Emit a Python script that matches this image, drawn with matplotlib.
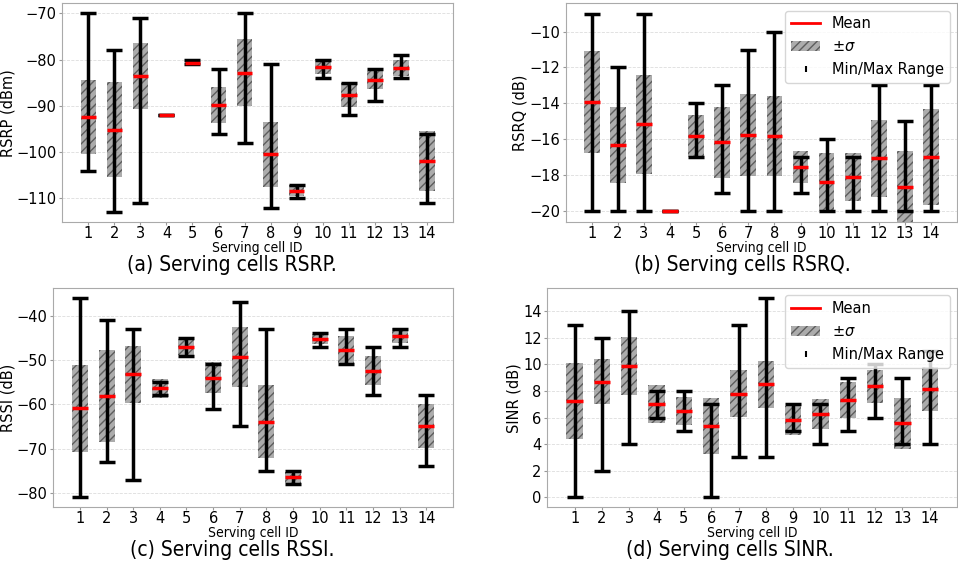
import matplotlib
matplotlib.use('Agg')
import matplotlib.pyplot as plt
from matplotlib.lines import Line2D
from matplotlib.patches import Patch
from matplotlib import font_manager
import numpy as np

cells = np.arange(1, 15)

# (a) RSRP (dBm)
rsrp_mean = [-92.5, -95.2, -83.6, -92.0, -80.7, -89.9, -82.8, -100.5, -108.3, -81.5, -87.7, -84.4, -81.8, -101.9]
rsrp_std = [8.0, 10.25, 7.15, 0.0, 0.45, 3.9, 7.25, 7.1, 1.25, 1.55, 2.55, 2.0, 1.65, 6.45]
rsrp_min = [-104, -113, -111, -92, -81, -96, -98, -112, -110, -84, -92, -89, -84, -111]
rsrp_max = [-70, -78, -71, -92, -80, -82, -70, -81, -107, -80, -85, -82, -79, -96]

# (b) RSRQ (dB)
rsrq_mean = [-13.96, -16.34, -15.19, -20.0, -15.82, -16.18, -15.76, -15.82, -17.56, -18.41, -18.12, -17.09, -18.68, -17.01]
rsrq_std = [2.85, 2.1, 2.75, 0.0, 1.17, 1.99, 2.3, 2.24, 0.88, 1.62, 1.34, 2.14, 1.98, 2.7]
rsrq_min = [-20, -20, -20, -20, -17, -19, -20, -20, -19, -20, -20, -20, -20, -20]
rsrq_max = [-9, -12, -9, -20, -14, -13, -11, -10, -17, -16, -17, -13, -15, -13]

# (c) RSSI (dB)
rssi_mean = [-60.94, -58.16, -53.2, -56.4, -47.1, -53.96, -49.3, -63.9, -76.5, -45.2, -47.65, -52.4, -44.5, -64.9]
rssi_std = [9.87, 10.4, 6.4, 2.1, 1.85, 3.45, 6.85, 8.15, 1.23, 1.1, 2.98, 3.3, 1.62, 4.97]
rssi_min = [-81, -73, -77, -58, -49, -61, -65, -75, -78, -47, -51, -58, -47, -74]
rssi_max = [-36, -41, -43, -55, -45, -51, -37, -43, -75, -44, -43, -47, -43, -58]

# (d) SINR (dB)
sinr_mean = [7.21, 8.69, 9.87, 7.01, 6.51, 5.38, 7.81, 8.51, 5.81, 6.29, 7.29, 8.34, 5.58, 8.16]
sinr_std = [2.86, 1.7, 2.17, 1.42, 1.05, 2.12, 1.78, 1.76, 1.09, 1.12, 1.35, 1.23, 1.92, 1.63]
sinr_min = [0, 2, 4, 6, 5, 0, 3, 3, 5, 4, 5, 6, 4, 4]
sinr_max = [13, 12, 14, 8, 8, 7, 13, 15, 7, 7, 9, 10, 9, 11]

# condensed face for the captions if one is installed
names = {f.name for f in font_manager.fontManager.ttflist}
if 'DejaVu Sans' in names and any('Condensed' in f.fname for f in font_manager.fontManager.ttflist):
    narrow = dict(family='DejaVu Sans', stretch='condensed')
else:
    narrow = dict(family='Liberation Sans Narrow' if 'Liberation Sans Narrow' in names else 'DejaVu Sans')


def draw_panel(ax, mean, std, vmin, vmax, ylabel, legend=False):
    mean = np.asarray(mean); std = np.asarray(std)
    width = 0.6
    ax.bar(cells, 2 * std, bottom=mean - std, width=width, color='gray', alpha=0.65,
           hatch='////', edgecolor='#333333', linewidth=0, zorder=2)
    ax.errorbar(cells, mean, yerr=[mean - np.asarray(vmin), np.asarray(vmax) - mean],
                fmt='none', ecolor='black', elinewidth=2.5, capsize=6, capthick=2.5, zorder=3)
    ax.hlines(mean, cells - width / 2, cells + width / 2, colors='red', linewidth=2.5, zorder=4)
    ax.set_xticks(cells)
    ax.set_xlim(0, 15)
    ax.set_ylabel(ylabel, fontsize=10.5, labelpad=1)
    ax.set_xlabel('Serving cell ID', fontsize=10, labelpad=-0.5, **narrow)
    ax.tick_params(labelsize=10.5, length=2.5, color='#999999', pad=1.5)
    ax.tick_params(axis='x', pad=0.5)
    ax.grid(axis='y', linestyle='--', linewidth=0.6, color='#dddddd', zorder=0)
    ax.set_axisbelow(True)
    for s in ax.spines.values():
        s.set_color('#aaaaaa')
    if legend:
        handles = [
            Line2D([0], [0], color='red', lw=2),
            Patch(facecolor='gray', alpha=0.65, hatch='////', edgecolor='#333333', linewidth=0),
            Line2D([0], [0], color='black', marker='|', linestyle='none', markersize=5, markeredgewidth=1.5),
        ]
        ax.legend(handles, ['Mean', r'$\pm\sigma$', 'Min/Max Range'], loc='upper right',
                  fontsize=10.5, labelspacing=0.55)


fig = plt.figure(figsize=(9.58, 5.68), dpi=100)
ax_a = fig.add_axes([0.0650, 0.6086, 0.4078, 0.3856])
ax_b = fig.add_axes([0.5905, 0.6086, 0.4085, 0.3856])
ax_c = fig.add_axes([0.0556, 0.1069, 0.4172, 0.3861])
ax_d = fig.add_axes([0.5713, 0.1069, 0.4277, 0.3861])

draw_panel(ax_a, rsrp_mean, rsrp_std, rsrp_min, rsrp_max, 'RSRP (dBm)')
draw_panel(ax_b, rsrq_mean, rsrq_std, rsrq_min, rsrq_max, 'RSRQ (dB)', legend=True)
draw_panel(ax_c, rssi_mean, rssi_std, rssi_min, rssi_max, 'RSSI (dB)')
draw_panel(ax_d, sinr_mean, sinr_std, sinr_min, sinr_max, 'SINR (dB)', legend=True)

ax_b.set_yticks([-10, -12, -14, -16, -18, -20])
ax_d.set_yticks(np.arange(0, 15, 2))

cap = dict(fontsize=15, ha='center', va='center', **narrow)
fig.text(232 / 958, 1 - 265 / 568, '(a) Serving cells RSRP.', **cap)
fig.text(742 / 958, 1 - 265 / 568, '(b) Serving cells RSRQ.', **cap)
fig.text(232 / 958, 1 - 550 / 568, '(c) Serving cells RSSI.', **cap)
fig.text(730 / 958, 1 - 550 / 568, '(d) Serving cells SINR.', **cap)

fig.savefig('out.png', dpi=100)
